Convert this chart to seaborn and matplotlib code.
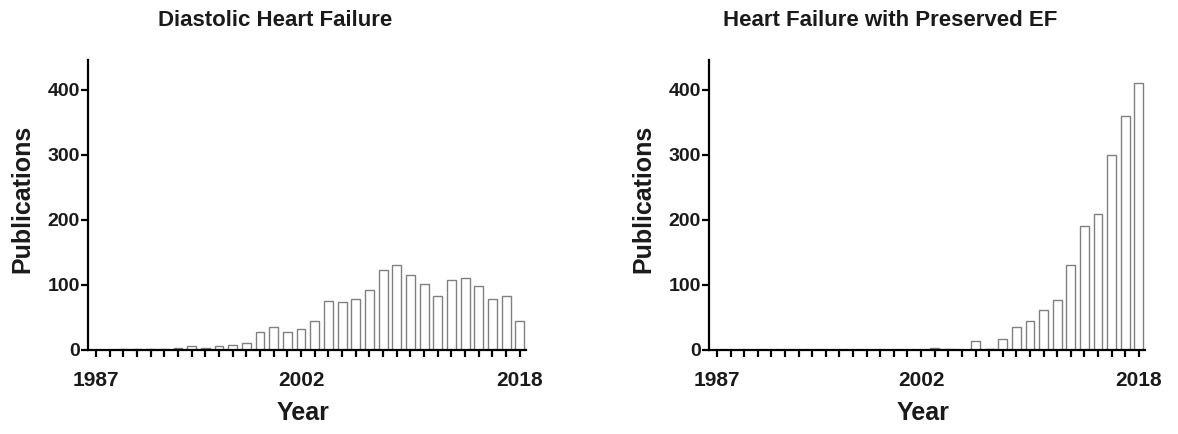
import matplotlib
matplotlib.use("Agg")
import matplotlib.pyplot as plt
import seaborn as sns
import pandas as pd

years = list(range(1987, 2019))
dhf_counts = [0, 0, 1, 1, 2, 2, 3, 6, 3, 6, 7, 10, 27, 35, 28, 32, 45, 76, 74, 78,
              93, 123, 131, 115, 102, 83, 108, 111, 99, 78, 83, 45]
hfpef_counts = [0, 0, 0, 0, 0, 0, 0, 0, 0, 0, 0, 0, 0, 0, 0, 0, 3, 1, 0, 14,
                1, 17, 36, 44, 61, 77, 130, 190, 209, 300, 360, 410]
titles = ["Diastolic Heart Failure", "Heart Failure with Preserved EF"]
xlabel = "Year"
ylabel = "Publications"
yticks = [0, 100, 200, 300, 400]
labelled_years = [1987, 2002, 2018]

sns.set_theme(style="ticks")
plt.rcParams['font.family'] = ['Liberation Sans', 'DejaVu Sans']
plt.rcParams['font.weight'] = 'bold'

fig = plt.figure(figsize=(11.78, 4.34), dpi=100)
W, H = 1178, 434
axes_px = [(88, 526), (709, 1145)]
title_cx = [275, 890]
top_px, bot_px = 60, 350
txt = '#1a1a1a'

for i, (counts, title) in enumerate(zip([dhf_counts, hfpef_counts], titles)):
    l, r = axes_px[i]
    ax = fig.add_axes([l / W, 1 - bot_px / H, (r - l) / W, (bot_px - top_px) / H])
    df = pd.DataFrame({"Year": [str(y) for y in years], "Publications": counts})
    sns.barplot(data=df, x="Year", y="Publications", ax=ax, color="white",
                edgecolor="#808080", linewidth=1.0, width=0.65, saturation=1)
    ax.set_xlim(-0.58, len(years) - 1 + 0.45)
    ax.set_ylim(0, 446)
    ax.set_xticks(range(len(years)))
    ax.set_xticklabels([str(y) if y in labelled_years else "" for y in years])
    ax.set_yticks(yticks)
    ax.set_yticklabels([str(v) for v in yticks])
    for s in ["top", "right"]:
        ax.spines[s].set_visible(False)
    for s in ["left", "bottom"]:
        ax.spines[s].set_linewidth(1.6)
        ax.spines[s].set_color('black')
    ax.tick_params(axis='both', direction='out', length=5, width=1.6, color='black',
                   labelcolor=txt)
    ax.tick_params(axis='x', pad=10, labelsize=15)
    ax.tick_params(axis='y', pad=0.8, labelsize=14)
    for t in ax.get_xticklabels() + ax.get_yticklabels():
        t.set_fontweight('bold')
    ax.set_xlabel(xlabel, fontsize=18, fontweight='bold', color=txt)
    ax.set_ylabel(ylabel, fontsize=18, fontweight='bold', color=txt)
    ax.xaxis.label.set_va('center')
    ax.xaxis.set_label_coords(0.49, -(413 - bot_px) / (bot_px - top_px))
    ax.yaxis.label.set_va('center')
    ax.yaxis.set_label_coords(-66 / (r - l), 0.52)
    fig.text(title_cx[i] / W, 1 - 20 / H, title, ha='center', va='center',
             fontsize=16, fontweight='bold', color=txt)

fig.savefig("out.png", dpi=100, facecolor='white')
